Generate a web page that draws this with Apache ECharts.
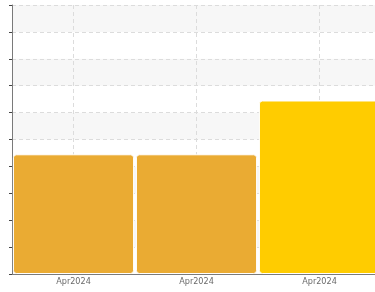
<!DOCTYPE html>
<html>
<head>
<meta charset="utf-8">
<script src="https://cdn.jsdelivr.net/npm/echarts@6/dist/echarts.min.js"></script>
<style>
html,body{margin:0;padding:0;background:#fff;}
#chart{width:375px;height:292px;}
</style>
</head>
<body>
<div id="chart"></div>
<script>
var categories = ['Apr2024', 'Apr2024', 'Apr2024'];
var values = [4.45, 4.45, 6.45];
var barColors = ['#EAAB33', '#EAAB33', '#FFCC00'];

var barData = [];
for (var i = 0; i < values.length; i++) {
    barData.push({value: values[i], itemStyle: {color: barColors[i]}});
}

var chart = echarts.init(document.getElementById('chart'));
chart.setOption({
    animation: false,
    grid: {
        left: 12,
        width: 369,
        top: 5,
        bottom: 18,
        outerBoundsMode: 'none'
    },
    xAxis: [
        {
            type: 'category',
            data: categories,
            axisLine: {lineStyle: {color: '#7a7a7a'}},
            axisTick: {alignWithLabel: true, length: 3, lineStyle: {color: '#444'}},
            axisLabel: {
                color: '#6a6a6a',
                fontSize: 9,
                margin: 3,
                fontFamily: '"Liberation Sans Narrow", "DejaVu Sans Condensed", sans-serif'
            },
            splitLine: {show: false}
        },
        {
            // helper axis for the dashed vertical lines through category centres
            type: 'category',
            boundaryGap: false,
            data: ['', '', '', '', '', '', ''],
            position: 'bottom',
            axisLine: {show: false},
            axisTick: {show: false},
            axisLabel: {show: false},
            splitLine: {
                show: true,
                interval: function (index) { return index % 2 == 1; },
                lineStyle: {color: '#dcdcdc', type: [4, 3]}
            }
        }
    ],
    yAxis: {
        type: 'value',
        min: 0,
        max: 10,
        interval: 1,
        axisLine: {show: true, lineStyle: {color: '#7a7a7a'}},
        axisTick: {show: true, length: 3, lineStyle: {color: '#444'}},
        axisLabel: {show: false},
        splitLine: {lineStyle: {color: '#dcdcdc', type: [4, 3]}},
        splitArea: {show: true, areaStyle: {color: ['#ffffff', '#f7f7f7']}}
    },
    series: [
        {
            type: 'bar',
            barCategoryGap: '1.5%',
            data: barData,
            itemStyle: {
                borderColor: '#ffffff',
                borderWidth: 1,
                borderRadius: 3
            }
        }
    ]
});
</script>
</body>
</html>
